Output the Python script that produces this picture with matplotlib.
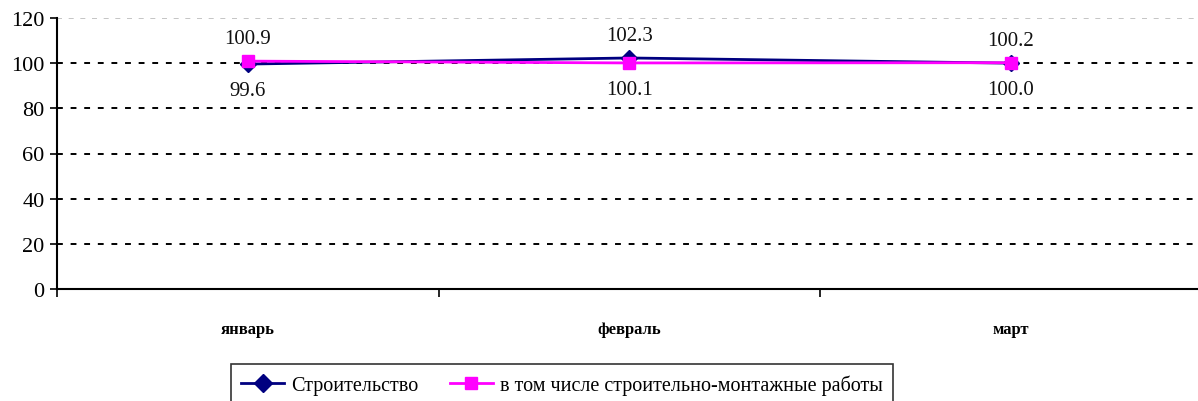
import matplotlib
matplotlib.use("Agg")
import matplotlib.pyplot as plt
from matplotlib.lines import Line2D

months = ["январь", "февраль", "март"]
construction = [99.6, 102.3, 100.0]
smr = [100.9, 100.1, 100.2]
series_names = ["Строительство", "в том числе строительно-монтажные работы"]
yticks = [0, 20, 40, 60, 80, 100, 120]

# label placement: +1 above, -1 below
constr_pos = [-1, 1, -1]
smr_pos = [1, -1, 1]

plt.rcParams['font.family'] = ['Liberation Serif', 'DejaVu Serif']

fig = plt.figure(figsize=(11.98, 4.02), dpi=100)
ax = fig.add_axes([57/1198, 1 - 290/402, 1 - 57/1198 + 0.003, (290 - 19)/402])

x = list(range(len(months)))
ax.set_xlim(-0.5, len(months) - 0.5)
ax.set_ylim(0, 120)

# gridlines
for v in yticks:
    if v in (0, 120):
        ax.axhline(v, color='#bbbbbb', lw=1.2, ls=(0, (3, 4)), zorder=0)
    else:
        ax.axhline(v, color='black', lw=1.4, ls=(0, (3, 4)), zorder=0)

ax.plot(x, construction, color='#000080', lw=2, marker='D', ms=8,
        mfc='#000080', mec='#000080', zorder=3)
ax.plot(x, smr, color='#ff00ff', lw=2, marker='s', ms=8,
        mfc='#ff00ff', mec='#ff00ff', zorder=4)

for xi, v, p in zip(x, construction, constr_pos):
    off = 16 if p > 0 else -19
    ax.annotate(f"{v:.1f}", (xi, v), xytext=(0, off), textcoords='offset points',
                ha='center', va='center', fontsize=15, color='#111111')
for xi, v, p in zip(x, smr, smr_pos):
    off = 16 if p > 0 else -19
    ax.annotate(f"{v:.1f}", (xi, v), xytext=(0, off), textcoords='offset points',
                ha='center', va='center', fontsize=15, color='#111111')

ax.spines['top'].set_visible(False)
ax.spines['right'].set_visible(False)
ax.spines['left'].set_linewidth(1.5)
ax.spines['bottom'].set_linewidth(1.5)

ax.set_yticks(yticks)
ax.set_yticklabels([str(v) for v in yticks], fontsize=16)
ax.tick_params(axis='y', direction='out', length=5, width=1.2, pad=4)

ax.set_xticks(x)
ax.set_xticklabels(months, fontsize=12, fontweight='bold')
ax.tick_params(axis='x', which='major', length=0, pad=23)
ax.set_xticks([-0.5, 0.5, 1.5], minor=True)
ax.tick_params(axis='x', which='minor', direction='out', length=6, width=1.2)

handles = [
    Line2D([], [], color='#000080', lw=2, marker='D', ms=9, mfc='#000080', mec='#000080'),
    Line2D([], [], color='#ff00ff', lw=2, marker='s', ms=9, mfc='#ff00ff', mec='#ff00ff'),
]
leg = fig.legend(handles, series_names, loc='lower center', bbox_to_anchor=(562/1198, -0.01),
                 ncol=2, fontsize=14.5, frameon=True, fancybox=False, edgecolor='black',
                 handlelength=2.1, handletextpad=0.35, columnspacing=1.6,
                 borderpad=0.5, borderaxespad=0)
leg.get_frame().set_linewidth(1.2)

fig.savefig("out.png", dpi=100)
